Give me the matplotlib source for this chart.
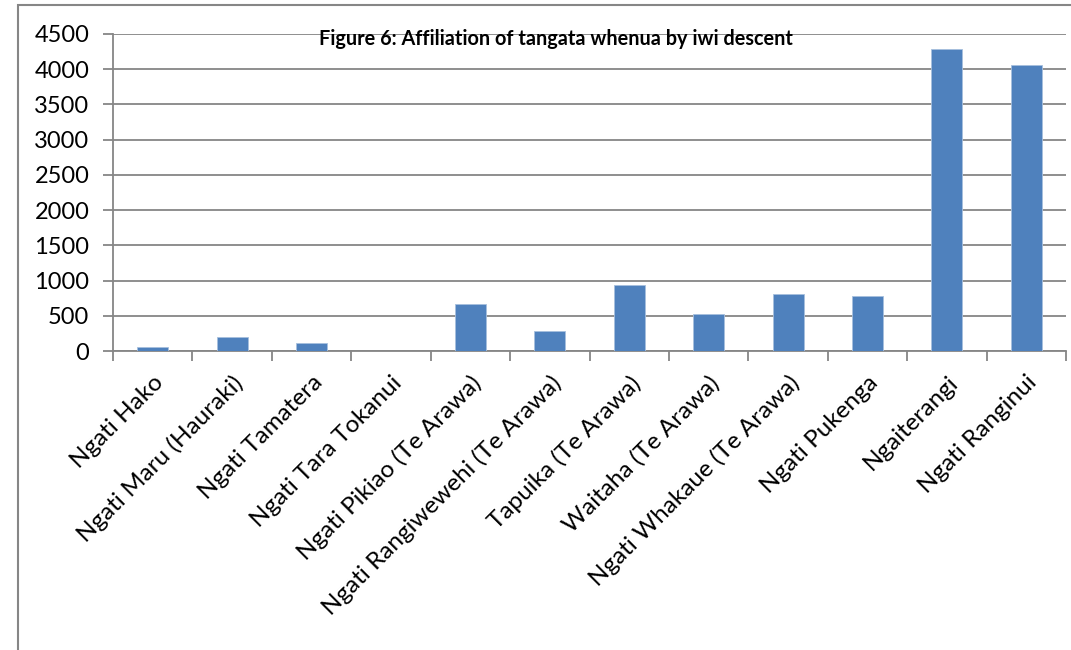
import matplotlib
matplotlib.use("Agg")
import matplotlib.pyplot as plt
from matplotlib.patches import Rectangle

categories = ["Ngati Hako", "Ngati Maru (Hauraki)", "Ngati Tamatera", "Ngati Tara Tokanui",
              "Ngati Pikiao (Te Arawa)", "Ngati Rangiwewehi (Te Arawa)", "Tapuika (Te Arawa)",
              "Waitaha (Te Arawa)", "Ngati Whakaue (Te Arawa)", "Ngati Pukenga", "Ngaiterangi",
              "Ngati Ranginui"]
values = [60, 200, 110, 6, 667, 290, 943, 524, 814, 776, 4281, 4053]
yticks = [0, 500, 1000, 1500, 2000, 2500, 3000, 3500, 4000, 4500]
title = "Figure 6: Affiliation of tangata whenua by iwi descent"

plt.rcParams['font.family'] = ['Lato', 'DejaVu Sans']
W, H = 1071, 650
fig = plt.figure(figsize=(W / 100, H / 100), dpi=100)
fig.patch.set_facecolor('white')

# outer frame
fig.add_artist(Rectangle((18 / W, -0.1), 1.2, 1 - 5 / H + 0.1, transform=fig.transFigure,
                         fill=False, edgecolor='#868686', linewidth=1.5))

ax = fig.add_axes([113 / W, 1 - 351 / H, (1066 - 113) / W, (351 - 34) / H])
x = list(range(len(categories)))
ax.bar(x, values, width=0.39, color='#4F81BD', edgecolor='#A7C0DE', linewidth=0.6, zorder=3)
ax.set_xlim(-0.5, len(categories) - 0.5)
ax.set_ylim(0, 4500)
ax.set_yticks(yticks)
ax.set_yticklabels([str(v) for v in yticks], fontsize=17, color='black')
ax.yaxis.grid(True, color='#868686', linewidth=1.3, zorder=0)
ax.set_axisbelow(True)

ax.set_xticks(x)
ax.set_xticklabels(categories, rotation=45, ha='right', va='top', rotation_mode='anchor',
                   fontsize=17.5)
ax.tick_params(axis='x', length=0, pad=15)
# category boundary ticks
ax.set_xticks([i - 0.5 for i in range(len(categories) + 1)], minor=True)
ax.tick_params(axis='x', which='minor', length=7, width=1.3, color='#868686')
ax.tick_params(axis='y', length=7, width=1.3, color='#868686', pad=10)

for s in ['top', 'right']:
    ax.spines[s].set_visible(False)
for s in ['left', 'bottom']:
    ax.spines[s].set_color('#868686')
    ax.spines[s].set_linewidth(1.3)

fig.text(556 / W, 1 - 39 / H, title, ha='center', va='center', fontsize=14.3,
         fontweight='bold', color='black')

fig.savefig('out.png', dpi=100, facecolor='white')
